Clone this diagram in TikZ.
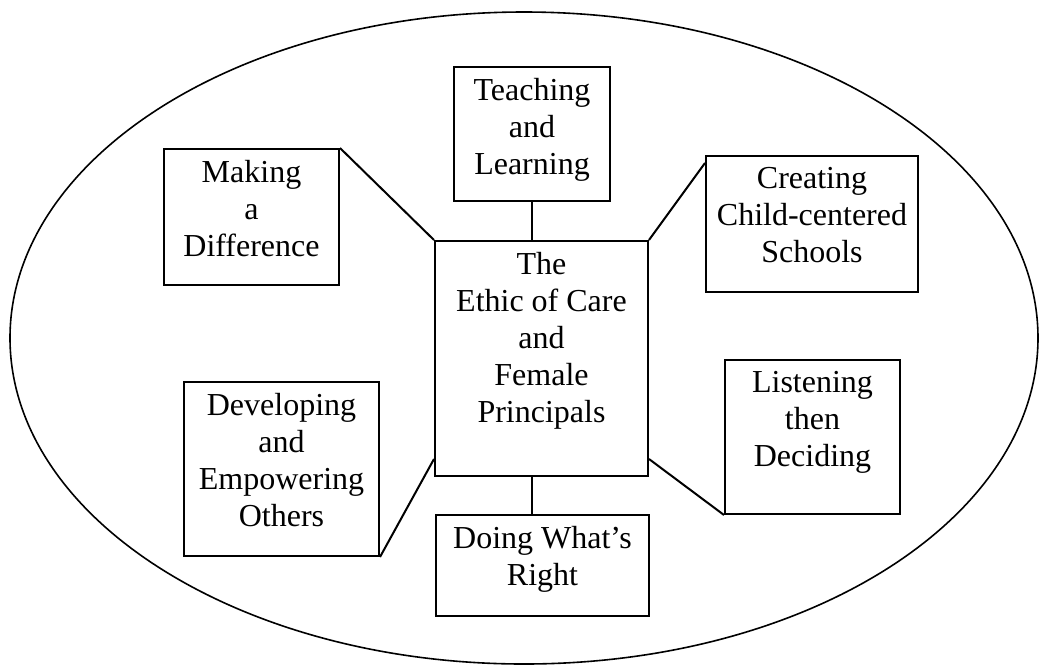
\documentclass[tikz,border=0pt]{standalone}
\usepackage{fontspec}
\setmainfont{Liberation Serif}
\usetikzlibrary{calc,positioning}
\tikzset{
    theme/.style={draw, line width=1pt, anchor=north west, inner sep=0pt},
    themetext/.style={anchor=north, yshift=-6pt, inner sep=0pt, align=center,
        font=\fontsize{16}{18.5}\selectfont},
    link/.style={line width=1pt},
}
\begin{document}
\begin{tikzpicture}[x=0.5pt,y=-0.5pt]
    \useasboundingbox (0,0) rectangle (1041,666);
    \draw[line width=0.8pt] (524,338) ellipse [x radius=514, y radius=326];

    % centre
    \node[theme, minimum width=106.5pt, minimum height=117.5pt,
        label={[themetext]north:The\\Ethic of Care\\and\\Female\\Principals}] (care) at (434,240) {};

    % themes round it
    \node[theme, minimum width=78pt, minimum height=67pt,
        label={[themetext]north:Teaching\\and\\Learning}] (teach) at (453,66) {};
    \node[theme, minimum width=87.5pt, minimum height=68pt,
        label={[themetext]north:Making\\a\\Difference}] (diff) at (163,148) {};
    \node[theme, minimum width=106pt, minimum height=68pt,
        label={[themetext]north:Creating\\Child-centered\\Schools}] (child) at (705,155) {};
    \node[theme, minimum width=87.5pt, minimum height=77pt,
        label={[themetext]north:Listening\\then\\Deciding}] (listen) at (724,359) {};
    \node[theme, minimum width=97.5pt, minimum height=87pt,
        label={[themetext]north:Developing\\and\\Empowering\\Others}] (develop) at (183,381) {};
    \node[theme, minimum width=106.5pt, minimum height=50.5pt,
        label={[themetext]north:Doing What’s\\Right}] (right) at (435,514) {};

    % links
    \draw[link] (teach.south) -- (teach.south |- care.north);
    \draw[link] (diff.north east) -- (care.north west);
    \draw[link] ([yshift=-4pt]child.north west) -- (care.north east);
    \draw[link] ([yshift=9pt]care.south east) -- (listen.south west);
    \draw[link] ([yshift=9pt]care.south west) -- (develop.south east);
    \draw[link] (care.south -| teach.south) -- (right.north -| teach.south);
\end{tikzpicture}
\end{document}
